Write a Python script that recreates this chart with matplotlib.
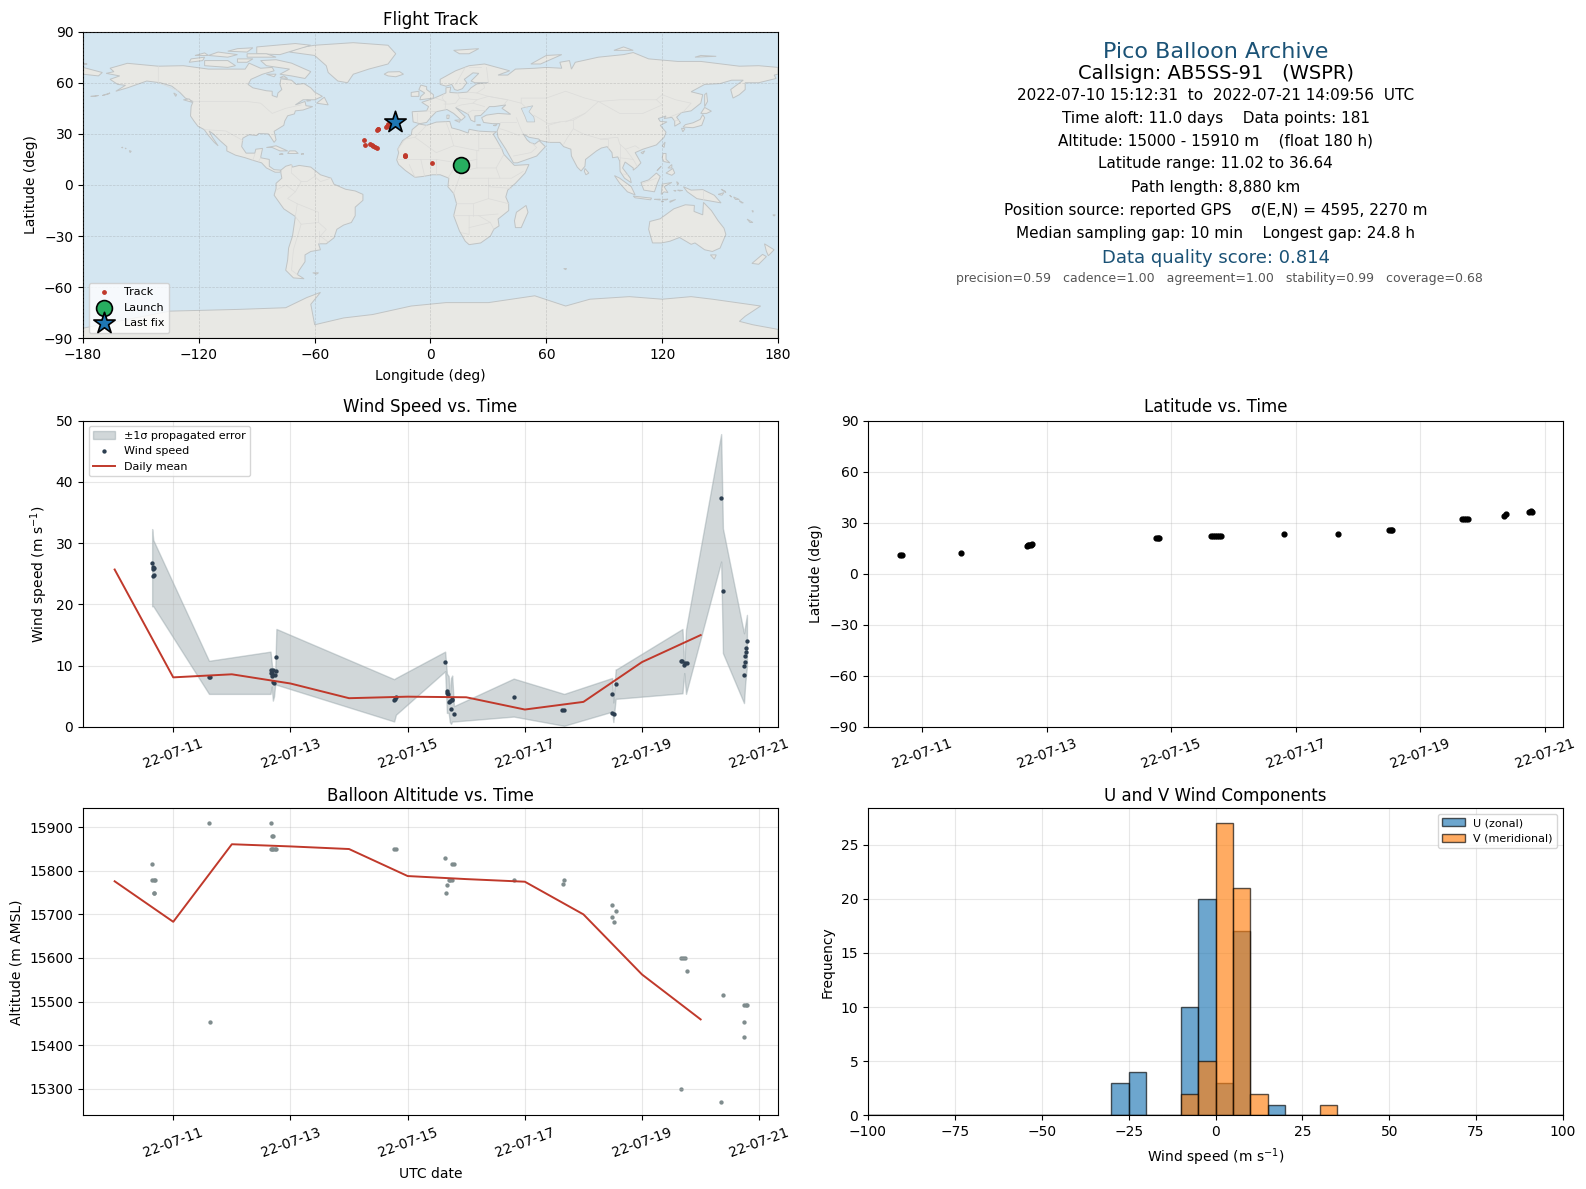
import matplotlib
matplotlib.use('Agg')
import matplotlib.pyplot as plt
import matplotlib.dates as mdates
import numpy as np
import pandas as pd

# --- map outlines (lon, lat) ---
north_america = [(-168,65.5),(-164,66.5),(-166,68.5),(-157,71.4),(-141,69.7),(-128,70),(-115,68),(-108,68),(-96,68),(-94,71.5),(-88,68.5),(-82,69),(-81,67),(-87,65),(-93,62),(-94.5,59),(-92,57),(-85,55.3),(-82,55),(-82,52.5),(-79.5,51.5),(-79,54),(-77,56),(-78,59),(-77.5,62.3),(-72,61.5),(-69.5,59),(-65.5,59.5),(-62,57),(-60,54.5),(-56,52),(-60,50),(-66,50),(-70,47),(-65,49),(-64.5,46.5),(-61,46),(-66,44),(-70,43.5),(-70.5,41.7),(-74,40.6),(-75.5,37.5),(-76,35),(-81,31.5),(-80,26.5),(-81,25),(-82.7,28),(-84,30),(-89,30.2),(-90,29),(-94,29.5),(-97.2,27.5),(-97.8,22.5),(-95.5,18.7),(-91,18.7),(-90.5,21),(-87,21.5),(-88,16),(-83.5,15),(-83.5,11),(-81,9),(-77.5,8.7),(-78,7.5),(-80.5,7.5),(-85,10),(-87.5,13),(-92,14.5),(-96,16),(-101,17.5),(-105.5,20),(-105.5,22.5),(-109,26),(-112.5,30),(-114.7,31.7),(-113,28),(-110,23),(-112,25),(-115,29),(-117.2,32.5),(-120.5,34.5),(-122.5,37.5),(-124.3,40.5),(-124,46),(-123,49),(-127,51),(-130,54.5),(-134,58),(-140,60),(-147,61),(-152,59),(-157,57),(-163,55),(-158,58.5),(-162,59),(-166,62),(-161,64)]
south_america = [(-77.5,8.7),(-75,11),(-72,12),(-71.5,10.5),(-68,11.5),(-62,10.5),(-57,6),(-51.5,4),(-50,0.5),(-44,-2.5),(-39,-3.5),(-35,-5.5),(-35,-9),(-39,-13),(-39,-18),(-41,-22),(-45,-23.5),(-48.5,-26),(-50,-31),(-54,-34.5),(-58,-34.5),(-57,-38),(-62,-39),(-65,-41),(-65,-45),(-68,-50),(-69,-52.5),(-65.5,-55),(-71,-54.5),(-75,-50),(-74,-44),(-73.5,-37),(-71.5,-30),(-70,-18.5),(-76,-14),(-81,-6),(-80,-2),(-80,1),(-77,4),(-77.5,7)]
africa = [(-6,35.8),(-2,35),(3,36.9),(10,37.3),(11,33.5),(15,32.3),(19.5,30.5),(20,32.7),(25,31.6),(32,31.2),(34.2,31.3),(32.5,29.8),(34,27),(37,21),(38,18),(43,12),(43.5,11.5),(51,12),(49,7),(44,1),(40,-3),(39,-7),(40.5,-11),(40.5,-15),(35,-20),(35.5,-24),(32.8,-26),(31,-30),(26,-34),(20,-35),(18,-33),(15,-27),(12,-18),(13.5,-11),(12,-5),(9,-1),(9.5,4),(5,6),(1,6),(-4,5),(-8,4.5),(-13,8.5),(-16.5,12),(-17.5,14.7),(-16.5,19),(-17,21),(-14.5,26),(-10,29.5),(-9.5,32.5)]
eurasia = [(-9,37),(-9.5,43),(-2,43.5),(-1,46),(-4.5,48.5),(1.5,50.8),(4,52),(8,54),(8,57),(10.5,57.5),(10,54.3),(14,54),(19,54.5),(21,57),(24,59.3),(30,60),(23,60),(21,61),(25,65.5),(22,65.8),(17.5,62),(18.8,60),(16.5,56.5),(14,55.5),(12.5,56),(11,59),(8,58),(5,59),(5,62),(13,67),(20,70),(28,71),(41,67),(35,64.5),(40,64.5),(44,68),(54,68.5),(60,69),(68,68.5),(67,72),(72,73),(73,68),(75,72),(81,73.5),(87,75),(100,76.5),(105,77.7),(113,74),(128,72.5),(140,72.5),(160,69.7),(170,70),(180,69),(180,65),(178,64.5),(179,62.5),(170,60),(163,60),(163,56),(160,53),(156.7,51),(155.5,56),(162,61.5),(156,61.5),(150,59.5),(142,59),(135,54.7),(141,53),(140,48),(135,43.5),(130,42.5),(127.5,39.8),(129.5,36.5),(126.5,34.5),(126.5,37.5),(125,39.7),(121,39),(122,40.5),(118,39),(119,37.3),(122.5,37),(119,35),(122,31),(121,28),(117,23.5),(110,21),(106,19),(109,13),(107,10.5),(105,8.7),(105,10),(100.8,13.5),(99.5,10),(103.5,4),(104,1.3),(100.5,4),(98.2,8),(98,14),(97,16.5),(94.3,16),(94,19),(91.5,22.5),(88.5,21.7),(86,20),(80.3,15),(80,11),(78,8.2),(76,10.5),(73,17),(72.7,21),(69,22.5),(67,25),(61.5,25),(57,26),(56,27),(51,28),(48,30),(50,26.5),(51.5,25),(54,24),(56.3,26),(59.5,22.5),(55,17),(45,13),(43,13),(39,21),(35,28),(34.5,31.5),(36,36),(32,36),(27.5,36.7),(26.5,39.5),(29,41),(35,42),(41.5,41.5),(37,45),(39,47),(33,46),(30.5,46),(28,43),(26,40.8),(23,40.5),(23,37),(21,38),(19.5,41.5),(13,45.5),(18,40),(16,38),(12,42),(8.5,44.3),(3,43),(0,39.5),(-2,36.7),(-5.5,36)]
greenland = [(-73,78),(-68,80.5),(-60,82),(-40,83.5),(-22,82),(-18,77),(-22,71),(-32,68),(-40,65),(-43,60),(-48,61),(-53,66),(-54,70),(-60,76)]
antarctica = [(-180,-84),(-135,-74),(-100,-73),(-75,-72),(-64,-66),(-57,-63),(-62,-70),(-60,-82),(-45,-78),(-30,-76),(-10,-71),(8,-69),(30,-69),(54,-65),(70,-71),(82.6,-67),(103,-65.5),(120,-67),(135,-65.5),(146,-67),(171,-71),(163,-77),(160,-80),(167,-82),(180,-84.7),(180,-90),(-180,-90)]
australia = [(113.6,-21.4),(119,-19.8),(126,-14),(132,-11.6),(136.7,-12),(136.5,-15.5),(141,-17.5),(141.4,-10.2),(145.5,-15),(149,-21),(152,-25.3),(153,-29),(150,-37),(146,-39),(142,-38),(137,-34),(135,-34.8),(129,-30.8),(124,-33),(119.7,-34),(115,-34),(113,-26)]
islands = [
    [(-80,73.5),(-72,71.5),(-62,66.5),(-65,62.5),(-72,64),(-78,65),(-73,68),(-85,70),(-88,73)],
    [(-117,70),(-105,69),(-101,70),(-105,73),(-117,73)],
    [(-125,72),(-118,73),(-117,75),(-124,74)],
    [(-90,77),(-78,76.5),(-62,82),(-70,83),(-90,81)],
    [(-95,75),(-80,75),(-85,77),(-95,77)],
    [(-115,76),(-105,75),(-100,76.5),(-110,78)],
    [(-100,72),(-95,72),(-92,74),(-100,74)],
    [(-122,76),(-115,76),(-117,77.5)],[(-105,78.5),(-95,78),(-92,80.5),(-100,80)],
    [(-85,65),(-81,63.5),(-80,65)],[(-78,63),(-74,62.5),(-76,64)],[(-128,50),(-123.5,48.5),(-125,50.5)],[(-133,54),(-131.5,53),(-132,52)],
    [(-5.5,50),(1.5,51),(1.5,53),(-2,56),(-2,57.7),(-5,58.6),(-6,56),(-3,54),(-5,52)],
    [(-10,52),(-6,52),(-6,55),(-10,54.3)],
    [(-24,65),(-22,64),(-18,63.5),(-14,65),(-16,66.5),(-22,66.3)],
    [(-85,22),(-80,23),(-74,20),(-78,20),(-82,22)],
    [(-74,18.5),(-68.5,18.5),(-70,20),(-73,20)],
    [(-78.3,18),(-76.3,18),(-77,18.5)],[(-67,18),(-65.6,18.2),(-66.5,18.5)],
    [(-59,48),(-53,47),(-55,51.5)],
    [(-64,49.2),(-62,49.5),(-64,50)],
    [(49.5,-12),(50.5,-16),(47,-25),(44,-25),(43.5,-21),(44.5,-16)],
    [(80,9.7),(82,7),(80.5,6),(79.7,8)],
    [(130.8,34),(136,33.6),(140.5,35),(142,39.5),(141,41.3),(139.7,38.5),(136,36.5),(132,35.4)],
    [(140,42),(143,42),(145.5,43.3),(142,45.5)],
    [(130,33.3),(131.8,33),(130.7,31.2)],
    [(142,46),(143.5,49),(143,54),(142,53)],
    [(95.3,5.5),(98,4),(104,-1),(106,-5.8),(102,-4),(98,1)],
    [(105,-6.5),(114.5,-7.7),(114,-8.7),(106,-7.5)],
    [(109,1.5),(113,3),(117,7),(119,5),(117.5,1),(116,-4),(110.5,-3)],
    [(119.5,-5.5),(120,0.5),(125,1.5),(121,-1),(123,-4.5),(121,-4)],
    [(131,-1),(135,-3),(141,-2.7),(147,-6),(150.5,-10.5),(143,-9),(138,-8),(133,-4)],
    [(120,16),(120.5,18.5),(122,18.5),(122,15),(124,13),(120.8,13.8)],
    [(122,7),(125.5,9.7),(126.5,7),(125,5.7)],[(118,9),(119.5,11),(117.3,8.4)],[(123,10),(125,12),(125,10)],
    [(120,23),(121.5,25.2),(121,22)],
    [(109,19),(111,20),(110,18.3)],
    [(145,-41),(148,-41),(147,-43.5)],
    [(173,-34.5),(178,-38),(175,-41.5),(174,-39)],
    [(172,-40.7),(174,-42),(170,-46.5),(166.5,-46)],
    [(12,79),(25,80),(20,77),(15,77)],
    [(52,71),(57,71),(68,76.5),(60,76)],
    [(95,79),(105,79),(100,81)],
    [(137,75),(148,75.5),(140,76)],
    [(-180,65),(-172,64),(-170,66),(-180,69)],
    [(-180,71),(-178,71.2),(-178,70.8)],
    [(-61,-51.5),(-58,-51.5),(-59,-52.3)],
    [(69,-49),(70.5,-49),(70,-49.7)],
    [(164,-20),(167,-22),(165.5,-22)],
    [(166.5,-15),(167.2,-15.2),(167,-16)],
    [(177.3,-17.5),(178.6,-17.5),(178,-18.2)],
    [(-160,22),(-159.4,22.2),(-159.5,21.8)],[(-158.2,21.5),(-157.7,21.6),(-157.8,21.2)],[(-156,20.2),(-155,19.8),(-155.6,19)],
    [(-170,52.5),(-166,54),(-167,53.3)],[(-176,52),(-172,52.5),(-174,52)],
    [(155,-6),(156,-7),(155.5,-6.8)],[(157,-7),(160,-8.5),(158,-8.5)],[(160,-9.2),(162,-10.5),(161,-10.4)],
    [(149,-5.5),(152,-4.5),(151,-6)],[(150.5,-2.5),(153,-4.5),(152.5,-3.5)],
    [(124,-9.5),(127,-8.5),(124,-10.2)],[(116,-8.4),(119,-8.3),(119,-8.8)],[(119.5,-9.5),(120.8,-9.6),(120,-10)],[(120,-8.5),(123,-8.3),(122,-8.8)],
    [(127.5,2),(128.5,1),(128,0)],[(126,-3.2),(127.2,-3.2),(126.8,-3.7)],[(128,-3),(130.5,-3.2),(129,-3.5)],
    [(8.5,41),(9.7,41),(9.5,39),(8.5,39)],
    [(12.5,38),(15.5,38.2),(15,36.8)],
    [(24,35.5),(26,35.2),(24,35)],
    [(32.5,35),(34.5,35.5),(33.5,34.7)],
]
lakes = [
    [(47,45),(53,46.5),(51,43),(53.5,40),(54,37),(50,37),(49,40)],
]
borders = [
    [(-123,49),(-95,49),(-88,48),(-82,42),(-75,45),(-67,47)],
    [(-141,69.7),(-141,60),(-130,55)],
    [(-117,32.5),(-106,31.7),(-97,26)],
    [(-92,14.5),(-91,18)],[(-88,16),(-89,14)],
    [(-72,12),(-72,7),(-67,2),(-70,-4),(-74,-8),(-69,-11),(-58,-16),(-58,-22),(-54,-26),(-57,-30),(-53,-33.5)],
    [(-60,8),(-60,5),(-64,2),(-67,2)],[(-51.5,4),(-57,2),(-60,5)],
    [(-80,-3),(-75,0),(-70,-4)],[(-70,-18.5),(-69,-11)],
    [(-70,-18.5),(-67,-23),(-71,-38),(-72,-50),(-69,-52.5)],
    [(-67,-23),(-58,-22)],[(-58,-27),(-58,-34)],
    [(-2,35),(-8,28),(-13,27),(-17,21)],[(-8,28),(3,19),(12,23),(10,31),(8,37)],[(12,23),(25,20),(25,31.6)],
    [(25,22),(37,22)],[(24,20),(24,10),(34,10),(36,14),(38,18)],
    [(-17,15),(-5,15),(3,15),(14,13),(24,15)],[(14,13),(9,4)],[(3,15),(3,6)],[(-5,15),(-3,5)],[(-11,12),(-8,4.5)],
    [(14,13),(16,8),(24,10)],[(16,8),(12,-5)],[(16,4),(30,4),(42,4),(48,8)],[(30,4),(30,-8),(40.5,-11)],
    [(34,10),(36,4)],[(30,-1),(42,-2)],[(13.5,-11),(22,-11),(30,-8)],[(12,-18),(25,-18),(35,-17)],[(22,-11),(22,-18)],
    [(20,-18),(20,-29),(16,-28)],[(20,-25),(31,-22)],[(25,-18),(31,-22),(32.8,-26)],
    [(-2,43.5),(3,43)],[(-7,37),(-7,42)],[(2.5,51),(8,49),(7.5,44)],[(7,53.5),(6,51),(8,48)],
    [(14,54),(15,51),(13,48),(10,47.5),(7,47.5)],[(15,51),(24,50),(22,48),(16,47),(13.5,46)],[(24,50),(30,52),(40,50),(38,47)],
    [(19,54.5),(24,54),(30,52)],[(22,48),(28,46)],[(22,44),(28,44)],[(19,42),(22,44)],[(24,54),(28,57),(27.5,59.5)],
    [(30,60),(29,69)],[(13,59),(18,69)],[(26,69),(20,69)],
    [(30,52),(40,50),(47,48),(47,51),(60,51),(70,55),(80,51),(87,49),(98,50),(107,50),(117,50),(120,53),(127,50),(135,48),(131,43)],
    [(87,49),(80,42),(74,38),(74,33),(79,30),(88,27),(97,28),(98,24),(101,21),(106,23),(108,21.5)],
    [(47,48),(50,45)],[(53.5,41),(61,36),(67,37),(74,38)],[(67,37),(61,35),(61.5,25)],[(70,37),(80,42)],
    [(74,33),(71,28),(69,24)],[(61,35),(62,30)],[(48,30),(46,35),(44.5,39.5)],[(44.5,37),(36,37)],
    [(46,29),(39,32),(36,33)],[(43,17),(52,19),(55,22),(52,25)],[(98,24),(98,14)],[(101,21),(105,15),(107,11)],[(98,16),(105,15)],
    [(100,6.5),(102,6)],[(87,49),(98,42),(110,42),(120,47),(117,50)],[(124,40),(130,42.5)],[(126,38),(128.5,38)],
    [(88,27),(92,27),(92,22)],[(141,-2.7),(141,-9)],[(110,1),(117,4)],
]

# --- flight data, day of July 2022 ---
wind_days = [10.64,10.66,10.68,10.66,10.66,10.68,11.61,11.63,12.67,12.71,12.75,12.66,12.69,12.69,12.74,12.71,12.72,12.76,14.77,14.80,14.78,
             15.64,15.67,15.68,15.69,15.70,15.73,15.76,15.75,15.74,15.79,16.81,17.64,17.67,18.49,18.56,18.49,18.52,19.67,19.69,19.72,19.73,19.76,
             20.35,20.38,20.74,20.74,20.76,20.76,20.77,20.77,20.79]
wind_speed = [26.7,26.1,26.0,25.8,24.6,24.8,8.15,8.15,9.3,9.3,9.2,8.8,8.8,8.4,8.5,7.4,7.1,11.4,4.45,4.9,4.6,
              10.6,5.8,5.6,5.4,4.07,4.3,4.45,4.56,2.9,2.1,4.9,2.77,2.77,5.4,7.0,2.3,2.1,10.75,10.7,10.05,10.5,10.5,
              37.3,22.15,8.5,9.9,10.6,11.6,12.2,12.9,14.0]
band_days = [10.64,10.66,11.61,12.66,12.68,12.70,12.72,12.74,12.76,14.77,14.80,15.64,15.67,15.70,15.72,15.74,15.76,15.79,16.81,17.67,18.49,18.51,18.55,18.56,19.69,19.72,19.75,20.35,20.38,20.74,20.76,20.79]
band_upper = [32.3,30.5,10.8,12.3,10.5,8.5,9.0,9.0,16.0,7.8,8.0,12.3,8.7,8.3,5.0,8.0,8.4,3.4,7.9,5.4,8.0,4.0,9.4,9.4,16.0,10.0,15.9,47.8,32.4,15.3,16.5,18.3]
band_lower = [19.7,19.7,5.4,5.4,6.6,4.3,5.0,6.9,6.9,0.9,2.0,9.1,2.3,2.3,0.8,0.5,0.9,0.9,1.7,0.2,2.5,0.8,4.6,4.6,5.5,8.8,5.4,27.0,12.05,3.9,7.0,9.9]
mean_days = [10,11,12,13,14,15,16,17,18,19,20]
mean_wind = [25.7,8.1,8.6,7.1,4.7,4.95,4.85,2.85,4.1,10.6,15.0]
mean_alt = [15776,15683,15861,15856,15850,15788,15781,15775,15700,15562,15459]

alt_days = [10.64,10.64,10.67,10.67,10.67,10.69,11.61,11.63,12.67,12.68,12.70,12.67,12.69,12.71,12.73,12.76,14.77,14.80,15.64,15.76,15.79,15.70,15.73,15.76,15.68,15.66,16.82,17.67,17.65,
            18.49,18.56,18.49,18.52,19.67,19.70,19.74,19.77,19.67,20.38,20.35,20.74,20.77,20.79,20.74,20.74]
alt_m = [15815,15780,15780,15750,15750,15780,15910,15454,15910,15880,15880,15850,15850,15850,15850,15850,15850,15850,15830,15815,15815,15780,15780,15780,15767,15750,15780,15780,15769,
         15721,15707,15695,15682,15601,15601,15601,15571,15300,15516,15270,15491,15491,15491,15454,15419]

lat_days = [10.65,10.67,11.62,12.68,12.70,12.72,12.74,12.76,14.76,14.78,14.80,15.64,15.67,15.70,15.73,15.76,15.80,16.81,17.67,18.50,18.53,18.55,19.67,19.70,19.73,19.77,20.35,20.38,20.74,20.77,20.79]
lat_deg = [11.1,11.3,12.35,16.6,16.9,17.1,17.2,17.3,21.2,21.2,21.3,22.4,22.4,22.4,22.4,22.4,22.4,23.5,23.5,25.9,25.9,25.8,32.4,32.4,32.4,32.4,34.1,35.3,36.5,36.6,36.5]

track_lon = [15.8,0.6,-13.4,-13.4,-13.2,-34.4,-34.1,-31.2,-30.5,-30,-28.8,-27.6,-27.4,-27.6,-27.1,-22.8,-21.8,-22.3,-18.5]
track_lat = [11.7,12.9,17.5,16.8,17.1,26.6,23.6,24,23.5,23,22.3,21.5,32.8,32.2,33.0,34.2,35.5,34.8,36.9]

hist_edges = np.arange(-100, 105, 5)
hist_lefts = [-30,-25,-10,-5,0,5,10,15,30]
u_counts = [3,4,10,20,3,17,0,1,0]
v_counts = [0,0,2,5,27,21,2,0,1]

day_ticks = [11,13,15,17,19,21]
info_lines = ['Pico Balloon Archive','Callsign: AB5SS-91   (WSPR)','2022-07-10 15:12:31  to  2022-07-21 14:09:56  UTC',
              'Time aloft: 11.0 days    Data points: 181','Altitude: 15000 - 15910 m    (float 180 h)','Latitude range: 11.02 to 36.64',
              'Path length: 8,880 km','Position source: reported GPS    σ(E,N) = 4595, 2270 m','Median sampling gap: 10 min    Longest gap: 24.8 h',
              'Data quality score: 0.814','precision=0.59   cadence=1.00   agreement=1.00   stability=0.99   coverage=0.68']

RED = '#c0392b'
W, H = 1586, 1189


def to_date(days):
    return pd.Timestamp('2022-07-01') + pd.to_timedelta(np.asarray(days, dtype=float) - 1, unit='D')


def panel(fig, x0, y0, x1, y1):
    return fig.add_axes([x0 / W, 1 - y1 / H, (x1 - x0) / W, (y1 - y0) / H])


def time_axis(ax, start=9.46, stop=21.32):
    ax.set_xlim(to_date([start])[0], to_date([stop])[0])
    ax.set_xticks(to_date(day_ticks))
    ax.xaxis.set_major_formatter(mdates.DateFormatter('%y-%m-%d'))
    ax.tick_params(axis='x', labelrotation=20)
    ax.grid(alpha=0.3)


fig = plt.figure(figsize=(W / 100, H / 100), dpi=100)

# flight track map
ax = panel(fig, 83, 31.6, 778, 338.4)
ax.set_facecolor('#d4e6f1')
for poly in [north_america, south_america, africa, eurasia, greenland, antarctica, australia] + islands:
    pts = np.array(poly)
    ax.fill(pts[:, 0], pts[:, 1], facecolor='#e8e8e4', edgecolor='#c0c4c5', lw=0.7, zorder=1)
for poly in lakes:
    pts = np.array(poly)
    ax.fill(pts[:, 0], pts[:, 1], facecolor='#d4e6f1', edgecolor='#c0c4c5', lw=0.5, zorder=1.1)
for line in borders:
    pts = np.array(line)
    ax.plot(pts[:, 0], pts[:, 1], color='#dcdcda', lw=0.5, zorder=1.2)
ax.grid(True, ls='--', lw=0.5, color='gray', alpha=0.3, zorder=1.5)
ax.set_axisbelow(False)
ax.scatter(track_lon, track_lat, s=6, color=RED, label='Track', zorder=3)
ax.scatter(track_lon[0], track_lat[0], s=130, color='#27ae60', edgecolors='black', lw=1.2, label='Launch', zorder=4)
ax.scatter(track_lon[-1], track_lat[-1], s=260, marker='*', color='#1f77b4', edgecolors='black', lw=1.2, label='Last fix', zorder=4)
ax.set_xlim(-180, 180)
ax.set_ylim(-90, 90)
ax.set_xticks(range(-180, 181, 60))
ax.set_yticks(range(-90, 91, 30))
ax.set_xlabel('Longitude (deg)', labelpad=5)
ax.set_ylabel('Latitude (deg)')
ax.set_title('Flight Track', pad=5)
ax.legend(loc='lower left', fontsize=8)

# summary text
info_y = [51, 73, 94, 117, 139.5, 162, 185, 208, 231, 255, 275]
info_x = [1215.5, 1215.5, 1215.5, 1215.5, 1215.5, 1215.5, 1215.5, 1215.5, 1215.5, 1215.5, 1219]
info_size = [16, 14, 11, 11, 11, 11, 11, 11, 11, 13, 9]
info_color = ['#1a5276', 'black', 'black', 'black', 'black', 'black', 'black', 'black', 'black', '#1a5276', '#555555']
for s, x, y, fs, c in zip(info_lines, info_x, info_y, info_size, info_color):
    fig.text(x / W, 1 - y * 1.0115 / H, s, ha='center', va='center', fontsize=fs, color=c)

# wind speed
ax = panel(fig, 83, 420.6, 778, 727)
ax.fill_between(to_date(band_days), band_lower, band_upper, color='#7a8c92', alpha=0.34, label='±1σ propagated error')
ax.scatter(to_date(wind_days), wind_speed, s=4.5, color='#2c3e50', label='Wind speed', zorder=3)
ax.plot(to_date(mean_days), mean_wind, color=RED, lw=1.4, label='Daily mean', zorder=4)
time_axis(ax)
ax.set_ylim(0, 50)
ax.set_ylabel('Wind speed (m s$^{-1}$)')
ax.set_title('Wind Speed vs. Time', pad=6)
ax.legend(loc='upper left', fontsize=8)

# latitude
ax = panel(fig, 868, 420.6, 1563, 727)
ax.scatter(to_date(lat_days), lat_deg, s=12, color='black')
time_axis(ax, 10.13, 21.29)
ax.set_ylim(-90, 90)
ax.set_yticks(range(-90, 91, 30))
ax.set_ylabel('Latitude (deg)')
ax.set_title('Latitude vs. Time', pad=6)

# altitude
ax = panel(fig, 83, 808.2, 778, 1115.4)
ax.scatter(to_date(alt_days), alt_m, s=4.5, color='#7f8c8d')
ax.plot(to_date(mean_days), mean_alt, color=RED, lw=1.4)
time_axis(ax)
ax.set_ylim(15238.7, 15943.7)
ax.set_xlabel('UTC date', labelpad=5)
ax.set_ylabel('Altitude (m AMSL)')
ax.set_title('Balloon Altitude vs. Time', pad=5)

# wind components
ax = panel(fig, 868, 808.2, 1563, 1115.4)
centres = np.array(hist_lefts) + 2.5
ax.hist(centres, bins=hist_edges, weights=u_counts, alpha=0.65, color='#1f77b4', edgecolor='black', label='U (zonal)')
ax.hist(centres, bins=hist_edges, weights=v_counts, alpha=0.65, color='#ff7f0e', edgecolor='black', label='V (meridional)')
ax.set_xlim(-100, 100)
ax.grid(alpha=0.3)
ax.set_axisbelow(True)
ax.set_xlabel('Wind speed (m s$^{-1}$)', labelpad=5)
ax.set_ylabel('Frequency')
ax.set_title('U and V Wind Components', pad=5)
ax.legend(loc='upper right', fontsize=8)

fig.savefig('out.png', dpi=100)
